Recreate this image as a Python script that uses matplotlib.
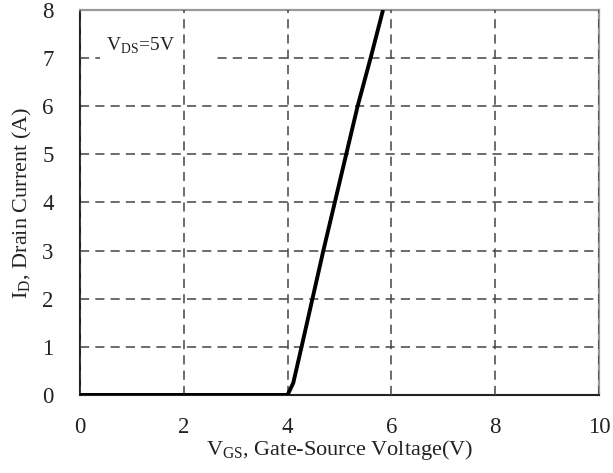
import numpy as np
import matplotlib.pyplot as plt

plt.rcParams['font.family'] = ['Liberation Serif', 'DejaVu Serif']
plt.rcParams['mathtext.fontset'] = 'custom'
plt.rcParams['mathtext.rm'] = 'Liberation Serif'

# transfer characteristic
vgs = [0.0, 4.0, 4.11, 4.27, 4.48, 4.69, 4.91, 5.13, 5.35, 5.60, 5.84]
i_d = [0.0, 0.0, 0.25, 1.0, 2.0, 3.0, 4.0, 5.0, 6.0, 7.0, 8.0]
x_ticks = [0, 2, 4, 6, 8, 10]
y_ticks = [0, 1, 2, 3, 4, 5, 6, 7, 8]

fig = plt.figure(figsize=(6.13, 4.73), dpi=100)
ax = fig.add_axes([0.1305, 0.165, 0.8465, 0.814])

ax.plot(vgs, i_d, color='black', lw=2.8, solid_capstyle='butt', zorder=3)

ax.set_xlim(0, 10)
ax.set_ylim(0, 8)
ax.set_xticks(x_ticks)
ax.set_yticks(y_ticks)
ax.tick_params(length=0, labelsize=16.5, colors='#222222')
ax.tick_params(axis='x', pad=16)
ax.tick_params(axis='y', pad=19)

ax.grid(True, color='#444444', lw=1.1, linestyle=(0, (6, 4)))
# vertical grid over the label box, horizontal grid under it
ax.xaxis.set_zorder(2.5)
ax.yaxis.set_zorder(1.5)

for side in ['top', 'right']:
    ax.spines[side].set_color('#999999')
    ax.spines[side].set_linewidth(1.6)
for side in ['left', 'bottom']:
    ax.spines[side].set_color('#222222')
    ax.spines[side].set_linewidth(1.5)

ax.set_xlabel(r'V$_{\mathrm{GS}}$, Gate-Source Voltage(V)', fontsize=16, labelpad=0, color='#222222')
ax.set_ylabel(r'I$_{\mathrm{D}}$, Drain Current (A)', fontsize=16, labelpad=6, color='#222222')

ax.text(0.5, 7.25, r'V$_{\mathrm{DS}}$=5V        ', fontsize=14, va='center', ha='left',
        color='#222222', bbox=dict(facecolor='white', edgecolor='none', pad=4), zorder=2)

fig.savefig('out.png', dpi=100)
